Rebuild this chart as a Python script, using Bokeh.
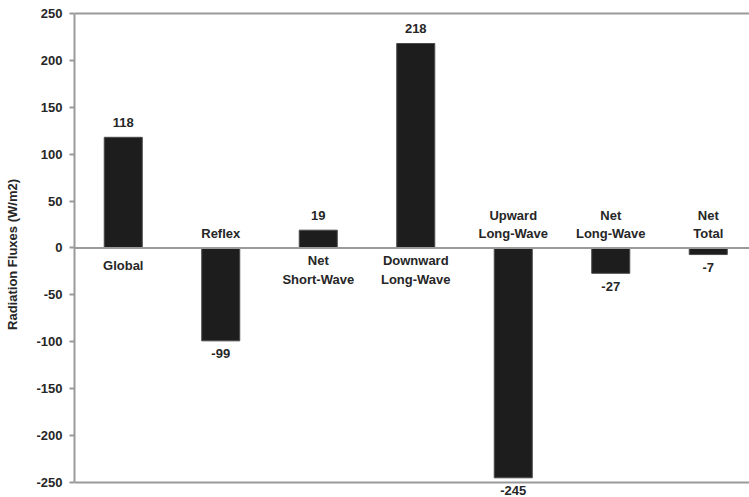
from bokeh.plotting import figure
from bokeh.models import ColumnDataSource, Range1d, FixedTicker, Span
from bokeh.core.properties import value
from bokeh.embed import file_html
from bokeh.resources import INLINE

# ---- data ----
categories = ["Global", "Reflex", "Net\nShort-Wave", "Downward\nLong-Wave",
              "Upward\nLong-Wave", "Net\nLong-Wave", "Net\nTotal"]
fluxes = [118, -99, 19, 218, -245, -27, -7]
value_labels = ["118", "-99", "19", "218", "-245", "-27", "-7"]
y_ticks = [-250, -200, -150, -100, -50, 0, 50, 100, 150, 200, 250]
y_tick_labels = ["-250", "-200", "-150", "-100", "-50", "0", "50", "100", "150", "200", "250"]
y_title = "Radiation Fluxes (W/m2)"

FONT = "Liberation Sans"
TXT = "#262626"
GRAY = "#9a9a9a"

xs = [i + 0.5 for i in range(len(categories))]

bars = ColumnDataSource(dict(x=xs, top=fluxes))

vals = ColumnDataSource(dict(
    x=xs, y=fluxes, text=value_labels,
    off=[-15 if v >= 0 else 13 for v in fluxes],
))

cx, ct, co = [], [], []
for x, cat, v in zip(xs, categories, fluxes):
    lines = cat.split("\n")
    n = len(lines)
    for j, ln in enumerate(lines):
        if v >= 0:
            off = 18 if n == 1 else 13 + 18.5 * j
        else:
            off = -14 - 18 * (n - 1 - j)
        cx.append(x)
        ct.append(ln)
        co.append(off)
cats = ColumnDataSource(dict(x=cx, y=[0] * len(cx), text=ct, off=co))

p = figure(width=749, height=497, output_backend="svg", toolbar_location=None,
           x_axis_location=None,
           x_range=Range1d(0, 6.923), y_range=Range1d(-266.0, 252.13),
           min_border_left=74, min_border_top=11, min_border_right=0,
           min_border_bottom=0)
p.outline_line_color = None
p.xgrid.visible = False
p.ygrid.visible = False
p.background_fill_color = "white"
p.border_fill_color = "white"

p.vbar(x="x", top="top", bottom=0, width=0.39, source=bars,
       fill_color="#1d1d1d", line_color="#4a4a4a", line_width=1)

for yv in (250, 0, -250):
    p.add_layout(Span(location=yv, dimension="width", line_color=GRAY,
                      line_width=2))

p.text(x="x", y="y", text="text", y_offset="off", source=vals,
       text_align="center", text_baseline="middle",
       text_font=value(FONT), text_font_size="13px", text_font_style="bold",
       text_color=TXT)
p.text(x="x", y="y", text="text", y_offset="off", source=cats,
       text_align="center", text_baseline="middle",
       text_font=value(FONT), text_font_size="13px", text_font_style="bold",
       text_color=TXT)

ax = p.yaxis[0]
ax.ticker = FixedTicker(ticks=y_ticks)
ax.major_label_overrides = {t: s for t, s in zip(y_ticks, y_tick_labels)}
ax.bounds = (-250, 250)
ax.axis_line_color = GRAY
ax.axis_line_width = 2
ax.major_tick_line_color = GRAY
ax.major_tick_line_width = 2
ax.major_tick_out = 5
ax.major_tick_in = 0
ax.minor_tick_line_color = None
ax.major_label_standoff = 7
ax.major_label_text_font = FONT
ax.major_label_text_font_size = "13px"
ax.major_label_text_font_style = "bold"
ax.major_label_text_color = TXT
ax.axis_label = y_title
ax.axis_label_text_font = FONT
ax.axis_label_text_font_size = "13px"
ax.axis_label_text_font_style = "bold"
ax.axis_label_text_color = TXT
ax.axis_label_standoff = 13

open("out.html", "w").write(file_html(p, INLINE))
